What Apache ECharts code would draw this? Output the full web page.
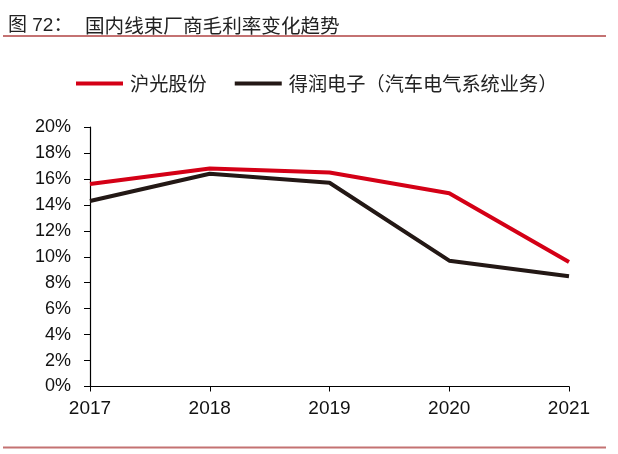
<!DOCTYPE html>
<html>
<head>
<meta charset="utf-8">
<script src="https://cdn.jsdelivr.net/npm/echarts@6/dist/echarts.min.js"></script>
<style>
  html, body { margin: 0; padding: 0; background: #fff; }
  #main { width: 618px; height: 454px; }
</style>
</head>
<body>
<div id="main"></div>
<script>
var years = ['2017', '2018', '2019', '2020', '2021'];
var huguang = [15.6, 16.8, 16.5, 14.9, 9.6];
var derun = [14.3, 16.4, 15.7, 9.7, 8.5];

var chart = echarts.init(document.getElementById('main'));
var cjk = '"Noto Sans CJK SC", sans-serif';
var latin = 'Arial, "Liberation Sans", "Noto Sans CJK SC", sans-serif';

var option = {
  animation: false,
  title: [
    {
      text: '图 72：',
      left: 3,
      top: 11,
      textStyle: { fontFamily: latin, fontSize: 19, fontWeight: 'normal', color: '#222' }
    },
    {
      text: '国内线束厂商毛利率变化趋势',
      left: 80,
      top: 11,
      textStyle: { fontFamily: cjk, fontSize: 19.6, fontWeight: 'normal', color: '#222' }
    }
  ],
  graphic: [
    { type: 'line', shape: { x1: 3, y1: 36, x2: 606, y2: 36 }, style: { stroke: '#c47272', lineWidth: 2 } },
    { type: 'line', shape: { x1: 3, y1: 447.5, x2: 606, y2: 447.5 }, style: { stroke: '#c47272', lineWidth: 2 } }
  ],
  legend: {
    left: 71,
    top: 69,
    itemWidth: 47,
    itemHeight: 4,
    itemGap: 28,
    icon: 'rect',
    textStyle: { fontFamily: cjk, fontSize: 19.2, color: '#222', padding: [0, 0, 0, 2] },
    data: ['沪光股份', '得润电子（汽车电气系统业务）']
  },
  grid: { left: 90, right: 49, top: 127, bottom: 67.5 },
  xAxis: {
    type: 'category',
    data: years,
    boundaryGap: false,
    axisLine: { lineStyle: { color: '#000', width: 1.2 } },
    axisTick: { alignWithLabel: true, length: 5, lineStyle: { color: '#000' } },
    axisLabel: { fontFamily: latin, fontSize: 19, color: '#111', margin: 13 }
  },
  yAxis: {
    type: 'value',
    min: 0,
    max: 20,
    interval: 2,
    axisLine: { show: true, lineStyle: { color: '#000', width: 1.2 } },
    axisTick: { show: true, length: 6, lineStyle: { color: '#000' } },
    splitLine: { show: false },
    axisLabel: { fontFamily: latin, fontSize: 18, color: '#111', margin: 19, formatter: '{value}%' }
  },
  series: [
    {
      name: '沪光股份',
      type: 'line',
      data: huguang,
      symbol: 'none',
      lineStyle: { color: '#d40016', width: 4 },
      itemStyle: { color: '#d40016' }
    },
    {
      name: '得润电子（汽车电气系统业务）',
      type: 'line',
      data: derun,
      symbol: 'none',
      lineStyle: { color: '#231815', width: 4 },
      itemStyle: { color: '#231815' }
    }
  ]
};
chart.setOption(option);
</script>
</body>
</html>
